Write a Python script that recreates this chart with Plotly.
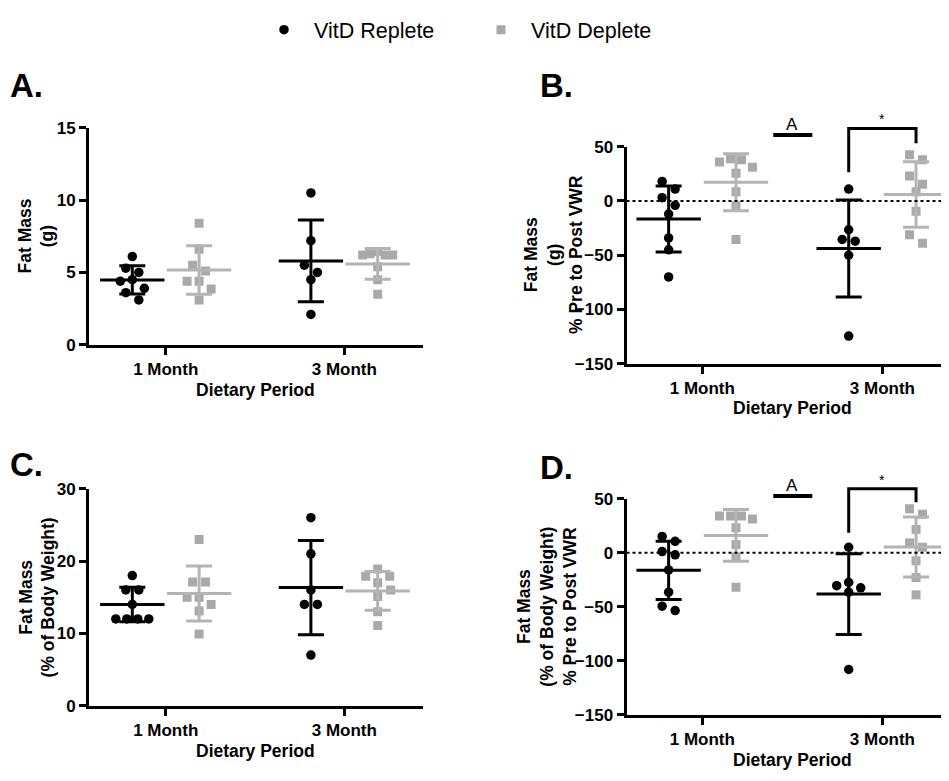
import numpy as np
import plotly.graph_objects as go

# ---------------- data ----------------
months = ["1 Month", "3 Month"]
series_names = ["VitD Replete", "VitD Deplete"]

# A: Fat Mass (g)
a_rep_1 = [6.1, 5.3, 5.0, 4.5, 4.4, 3.9, 3.6, 3.1]
a_dep_1 = [8.4, 6.6, 5.5, 5.1, 4.4, 4.4, 3.85, 3.1]
a_rep_3 = [10.5, 7.2, 5.5, 5.0, 4.5, 2.1]
a_dep_3 = [6.45, 6.3, 6.2, 6.2, 6.2, 5.4, 4.5, 3.5]

# B: Fat Mass (g), % Pre to Post VWR
b_rep_1 = [18, 11, 3, -4, -12, -34, -45, -70]
b_dep_1 = [39, 38, 36, 31, 25.5, 8.5, -4.5, -35.5]
b_rep_3 = [11, -26.5, -35.5, -37, -50, -124.5]
b_dep_3 = [42.5, 38, 23, 15.5, 8.5, -9.5, -31, -39]

# C: Fat Mass (% of Body Weight)
c_rep_1 = [18, 16, 16, 14, 12, 12, 12, 12]
c_dep_1 = [23, 17.1, 17.1, 15, 15, 14, 13.1, 9.9]
c_rep_3 = [26, 21, 16, 14, 14, 7]
c_dep_3 = [18.9, 17.9, 17.9, 17, 16, 15.1, 13, 11.1]

# D: Fat Mass (% of Body Weight), % Pre to Post VWR
d_rep_1 = [15, 10.5, 1, -2, -16, -36.5, -49.5, -53.5]
d_dep_1 = [34, 34, 34, 31, 23, 7.5, -4, -32]
d_rep_3 = [5, -27.5, -30.5, -32.5, -36.5, -108]
d_dep_3 = [40.5, 35.5, 21.5, 9, 5, -7.5, -23, -39]

ticks_a = [0, 5, 10, 15]
ticks_c = [0, 10, 20, 30]
ticks_bd = [-150, -100, -50, 0, 50]

# ---------------- style / layout ----------------
# the page body keeps the browser's default 8px margin, so the figure is
# sized to fill the remaining window and all positions are given in window px
OFF = 8
W, H = 949 - OFF, 781 - OFF
FONT = "Liberation Sans, Arial, Helvetica, sans-serif"
BLACK = "#000000"
GREY = "#a9a9a9"
GREY_BAR = "#b4b4b4"


def fx(x):
    return (x - OFF) / W


def fy(y):
    return 1 - (y - OFF) / H


# panel geometry in window pixels: (x_left, x_right, y_top, y_bottom)
panels = {
    "A": dict(px=(89.0, 422.7, 121.7, 344.0), xr=(-0.4295, 1.439), yr=(0, 15), ticks=ticks_a),
    "B": dict(px=(626.5, 949.0, 141.0, 363.5), xr=(-0.421, 1.37), yr=(-150, 50), ticks=ticks_bd),
    "C": dict(px=(89.0, 422.7, 491.7, 714.0), xr=(-0.4295, 1.439), yr=(0, 30), ticks=ticks_c),
    "D": dict(px=(626.5, 949.0, 501.7, 723.5), xr=(-0.421, 1.37), yr=(-150, 50), ticks=ticks_bd),
}
axis_ids = {"A": "", "B": "2", "C": "3", "D": "4"}
group_offset = 0.187


def ppx(p):
    x0, x1, _, _ = p["px"]
    return (x1 - x0) / (p["xr"][1] - p["xr"][0])


def ppy(p):
    _, _, y0, y1 = p["px"]
    return (y1 - y0) / (p["yr"][1] - p["yr"][0])


def to_paper(p, xv, yv):
    x0, x1, y0, y1 = p["px"]
    px = x0 + (xv - p["xr"][0]) * ppx(p)
    py = y0 + (p["yr"][1] - yv) * ppy(p)
    return fx(px), fy(py)


ROW_SPACING = {1: 0.0, 2: 13.0, 3: 12.0, 4: 11.0}


def swarm_offsets(vals, ppy_, diam=9.0, binh=9.0):
    n = len(vals)
    idx = sorted(range(n), key=lambda i: -vals[i])
    bins = []
    for i in idx:
        if bins and (vals[bins[-1][0]] - vals[i]) * ppy_ < binh:
            bins[-1].append(i)
        else:
            bins.append([i])
    placed = []
    off = [0.0] * n
    for b in bins:
        k = len(b)
        sp = ROW_SPACING.get(k, 7.5)
        base = [(j - (k - 1) / 2) * sp for j in range(k)]
        order_pos = sorted(base, key=lambda o: (abs(o), o))
        best = None
        step = 6.5
        for shift in [0, step, -step, 2 * step, -2 * step]:
            cand = [(order_pos[j] + shift, vals[b[j]] * ppy_) for j in range(k)]
            bad = sum(1 for (cx, cy) in cand for (qx, qy) in placed
                      if (cx - qx) ** 2 + (cy - qy) ** 2 < diam ** 2)
            if best is None or bad < best[0]:
                best = (bad, cand)
            if bad == 0:
                break
        for j in range(k):
            off[b[j]] = best[1][j][0]
        placed.extend(best[1])
    return off


fig = go.Figure()

panel_data = {
    "A": [(a_rep_1, a_dep_1), (a_rep_3, a_dep_3)],
    "B": [(b_rep_1, b_dep_1), (b_rep_3, b_dep_3)],
    "C": [(c_rep_1, c_dep_1), (c_rep_3, c_dep_3)],
    "D": [(d_rep_1, d_dep_1), (d_rep_3, d_dep_3)],
}

for key, groups in panel_data.items():
    p = panels[key]
    ax = axis_ids[key]
    xref, yref = "x" + ax, "y" + ax
    kx, ky = ppx(p), ppy(p)
    summaries = []
    for mi, (rep, dep) in enumerate(groups):
        for si, vals in enumerate((rep, dep)):
            center = mi + (-group_offset if si == 0 else group_offset)
            offs = swarm_offsets(vals, ky, diam=9.0)
            xs = [center + o / kx for o in offs]
            show = key == "A" and mi == 0
            fig.add_trace(go.Scatter(
                x=xs, y=vals, xaxis=xref, yaxis=yref, mode="markers",
                name=series_names[si], legendgroup=series_names[si], showlegend=show,
                marker=dict(symbol="circle" if si == 0 else "square",
                            size=9.5 if si == 0 else 9,
                            color=BLACK if si == 0 else GREY, line=dict(width=0)),
                hoverinfo="skip"))
            summaries.append((center, float(np.mean(vals)), float(np.std(vals, ddof=1)), si))
    for center, m, sd, si in summaries:
        col = BLACK if si == 0 else GREY_BAR
        fig.add_trace(go.Scatter(
            x=[center], y=[m], xaxis=xref, yaxis=yref, mode="markers", showlegend=False,
            marker=dict(symbol="line-ew", size=46, color=col, line=dict(width=3, color=col)),
            error_y=dict(type="data", array=[sd], visible=True, thickness=3, width=13, color=col),
            hoverinfo="skip"))

layout = dict(
    width=W, height=H, margin=dict(l=0, r=0, t=0, b=0),
    paper_bgcolor="white", plot_bgcolor="white",
    font=dict(family=FONT, color="black"),
    showlegend=True,
    legend=dict(orientation="h", x=fx(254), xanchor="left", y=fy(21), yanchor="middle",
                itemwidth=50, entrywidth=152, entrywidthmode="pixels",
                font=dict(family=FONT, size=21.5, color="black"), bgcolor="rgba(0,0,0,0)",
                itemclick=False, itemdoubleclick=False),
)

tickfont = dict(family=FONT, size=17, color="black", weight="bold")
for key, p in panels.items():
    ax = axis_ids[key]
    x0, x1, y0, y1 = p["px"]
    layout["xaxis" + ax] = dict(
        domain=[fx(x0), min(1.0, fx(x1))], range=list(p["xr"]), anchor="y" + ax,
        tickmode="array", tickvals=[0, 1], ticktext=months,
        showline=True, linewidth=3, linecolor="black", ticks="outside", ticklen=7,
        tickwidth=3, tickcolor="black", showgrid=False, zeroline=False,
        tickfont=tickfont, fixedrange=True)
    layout["yaxis" + ax] = dict(
        domain=[fy(y1), fy(y0)], range=list(p["yr"]), anchor="x" + ax,
        tickmode="array", tickvals=p["ticks"],
        showline=True, linewidth=3, linecolor="black", ticks="outside", ticklen=7,
        tickwidth=3, tickcolor="black", showgrid=False, zeroline=False,
        tickfont=tickfont, fixedrange=True)

fig.update_layout(**layout)

shapes = []
annotations = []


def ann_px(text, x, y, size, bold=True, angle=0, xanchor="center", yanchor="middle"):
    annotations.append(dict(
        text=text, x=fx(x), y=fy(y), xref="paper", yref="paper",
        xanchor=xanchor, yanchor=yanchor, showarrow=False, textangle=angle,
        font=dict(family=FONT, size=size, color="black", weight="bold" if bold else "normal")))


# panel letters
ann_px("A.", 8, 78.5, 33, xanchor="left")
ann_px("B.", 538, 78.5, 33, xanchor="left")
ann_px("C.", 8, 467, 33, xanchor="left")
ann_px("D.", 538, 470, 33, xanchor="left")

# axis titles
ann_px("Dietary Period", 255.5, 390, 17.5)
ann_px("Dietary Period", 792, 409, 17.5)
ann_px("Dietary Period", 255.5, 760, 17.5)
ann_px("Dietary Period", 792, 770, 17.5)

ann_px("Fat Mass<br>(g)", 36, 233, 17.5, angle=-90)
ann_px("Fat Mass<br>(g)<br>% Pre to Post VWR", 554, 252, 17.5, angle=-90)
ann_px("Fat Mass<br>(% of Body Weight)", 37, 603, 17.5, angle=-90)
ann_px("Fat Mass<br>(% of Body Weight)<br>% Pre to Post VWR", 547.5, 613, 17.5, angle=-90)

# zero dotted lines and significance marks in B and D
sig = {
    "B": dict(a_line=60.8, a_text=70.5, top=66.8, left_end=26.4, right_end=53.3, star=75.5),
    "D": dict(a_line=52.3, a_text=62.0, top=59.0, left_end=18.5, right_end=46.7, star=67.0),
}
for key, s in sig.items():
    p = panels[key]
    xl, yz = to_paper(p, p["xr"][0], 0)
    shapes.append(dict(type="line", xref="paper", yref="paper", x0=xl, x1=1.0, y0=yz, y1=yz,
                       line=dict(color="black", width=2, dash="dot")))
    ax0, ay = to_paper(p, 0.394, s["a_line"])
    ax1, _ = to_paper(p, 0.611, s["a_line"])
    shapes.append(dict(type="line", xref="paper", yref="paper", x0=ax0, x1=ax1, y0=ay, y1=ay,
                       line=dict(color="black", width=4)))
    tx, ty = to_paper(p, 0.498, s["a_text"])
    annotations.append(dict(text="A", x=tx, y=ty, xref="paper", yref="paper", showarrow=False,
                            xanchor="center", yanchor="middle",
                            font=dict(family=FONT, size=17, color="black")))
    bl = 1 - group_offset
    br = 1 + group_offset
    p1 = to_paper(p, bl, s["left_end"])
    p2 = to_paper(p, bl, s["top"])
    p3 = to_paper(p, br, s["top"])
    p4 = to_paper(p, br, s["right_end"])
    path = "M {},{} L {},{} L {},{} L {},{}".format(p1[0], p1[1], p2[0], p2[1], p3[0], p3[1], p4[0], p4[1])
    shapes.append(dict(type="path", xref="paper", yref="paper", path=path,
                       line=dict(color="black", width=3)))
    sx, sy = to_paper(p, 1.0, s["star"])
    annotations.append(dict(text="*", x=sx, y=sy, xref="paper", yref="paper", showarrow=False,
                            xanchor="center", yanchor="middle",
                            font=dict(family=FONT, size=14, color="black")))

fig.update_layout(shapes=shapes, annotations=annotations)
fig.write_html("out.html")
